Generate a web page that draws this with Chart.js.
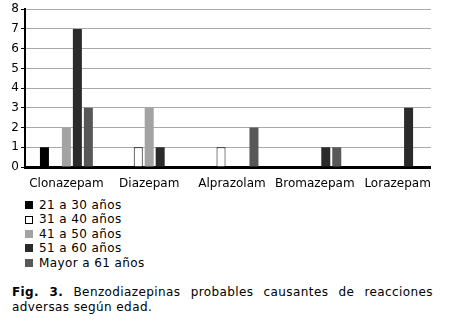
<!DOCTYPE html>
<html>
<head>
<meta charset="utf-8">
<script src="https://cdn.jsdelivr.net/npm/chart.js@4"></script>
<style>
  body { margin:0; background:#fff; font-family:"DejaVu Sans", Verdana, sans-serif; }
  #wrap { position:absolute; left:0; top:0; width:431px; height:192px; overflow:hidden; }
  #chart { position:absolute; left:0; top:0; }
  #legend { position:absolute; left:25px; top:198px; font-size:12px; line-height:14.4px; letter-spacing:0.4px; color:#000; }
  .item { display:flex; align-items:center; }
  .box { width:8px; height:8px; margin-right:6px; box-sizing:border-box; }
  #caption { position:absolute; left:12px; top:285px; width:421px; font-size:12px; line-height:15px; letter-spacing:0.4px; color:#000; }
  #caption .l1 { text-align:justify; text-align-last:justify; }
</style>
</head>
<body>
<div id="wrap"><canvas id="chart" width="439" height="192"></canvas></div>
<div id="legend"></div>
<div id="caption"><div class="l1"><b>Fig. 3.</b> Benzodiazepinas probables causantes de reacciones</div><div>adversas según edad.</div></div>
<script>
const drugs = ['Clonazepam','Diazepam','Alprazolam','Bromazepam','Lorazepam'];
const ageGroups = ['21 a 30 años','31 a 40 años','41 a 50 años','51 a 60 años','Mayor a 61 años'];
const age21to30 = [1,0,0,0,0];
const age31to40 = [0,1,1,0,0];
const age41to50 = [2,3,0,0,0];
const age51to60 = [7,1,0,1,3];
const age61plus = [3,0,2,1,0];
const yTicks = [0,1,2,3,4,5,6,7,8];

const fills   = ['#000000','#ffffff','#a3a3a3','#2b2b2b','#585858'];
const borders = [0,1,0,0,0];
const series  = [age21to30, age31to40, age41to50, age51to60, age61plus];

const datasets = series.map((d,i)=>({
  label: ageGroups[i], data: d,
  backgroundColor: fills[i], borderColor:'#000', borderWidth: borders[i],
  barPercentage: 0.82, categoryPercentage: 0.663
}));

document.getElementById('legend').innerHTML = ageGroups.map((g,i)=>`
  <div class="item"><span class="box" style="background:${fills[i]};${borders[i]?'border:1px solid #000':''}"></span>${g}</div>`).join('');

Chart.defaults.font.family = '"DejaVu Sans", Verdana, sans-serif';
Chart.defaults.color = '#000';

new Chart(document.getElementById('chart'), {
  type: 'bar',
  data: { labels: drugs, datasets },
  options: {
    responsive:false, animation:false,
    layout: { padding: { top:2, left:0, right:0, bottom:0 } },
    plugins: { legend:{ display:false }, tooltip:{ enabled:false } },
    scales: {
      x: {
        grid: { display:false },
        border: { color:'#000', width:3 },
        ticks: { font:{ size:12 }, padding:2, maxRotation:0, autoSkip:false },
        afterFit(s) { s.height = 25; }
      },
      y: {
        min: 0, max: 8,
        afterBuildTicks(s) { s.ticks = yTicks.map(v=>({ value:v })); },
        grid: { color:'#aaaaaa', lineWidth:1, tickLength:4, tickColor:'#000' },
        border: { color:'#000', width:2 },
        ticks: { font:{ size:12 }, padding:2 },
        afterFit(s) { s.width = 25; }
      }
    }
  }
});
</script>
</body>
</html>
